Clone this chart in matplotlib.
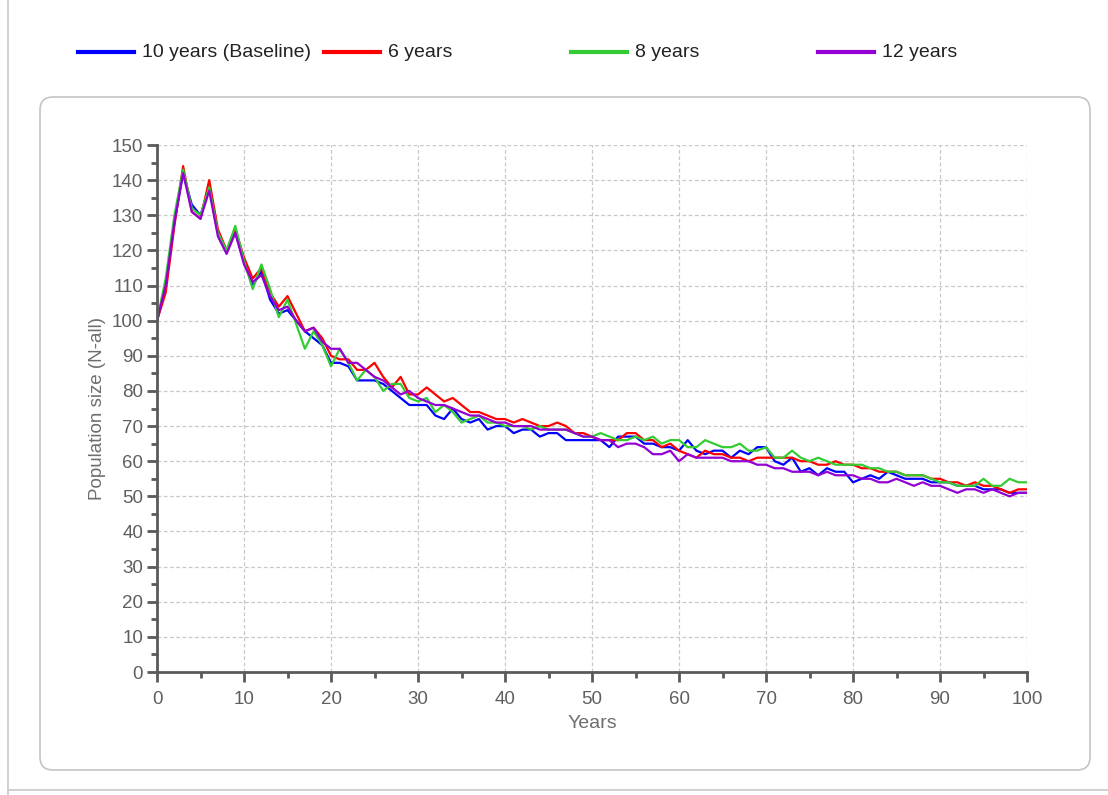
import numpy as np
import matplotlib.pyplot as plt
from matplotlib.patches import FancyBboxPatch
from matplotlib.lines import Line2D
from matplotlib.ticker import MultipleLocator

plt.rcParams['font.family'] = ['Liberation Sans', 'DejaVu Sans']

years = np.arange(0, 101)

# Population size (N-all) per year for each scenario
baseline_10 = [100, 110, 128, 142, 133, 130, 138, 125, 120, 125,
               117, 110, 114, 106, 102, 103, 100, 97, 95, 93,
               88, 88, 87, 83, 83, 83, 82, 80, 78, 76,
               76, 76, 73, 72, 75, 72, 71, 72, 69, 70,
               70, 68, 69, 69, 67, 68, 68, 66, 66, 66,
               66, 66, 64, 67, 67, 67, 65, 65, 64, 64,
               63, 66, 63, 62, 63, 63, 61, 63, 62, 64,
               64, 60, 59, 61, 57, 58, 56, 58, 57, 57,
               54, 55, 56, 55, 57, 56, 55, 55, 55, 54,
               54, 54, 53, 53, 53, 52, 52, 52, 51, 51, 51]
years_6 = [100, 108, 127, 144, 131, 129, 140, 126, 120, 126,
           118, 112, 115, 108, 104, 107, 102, 97, 98, 95,
           90, 89, 89, 86, 86, 88, 84, 81, 84, 79,
           79, 81, 79, 77, 78, 76, 74, 74, 73, 72,
           72, 71, 72, 71, 70, 70, 71, 70, 68, 68,
           67, 66, 66, 66, 68, 68, 66, 66, 64, 65,
           63, 62, 61, 63, 62, 62, 61, 61, 60, 61,
           61, 61, 61, 61, 60, 60, 59, 59, 60, 59,
           59, 58, 58, 57, 57, 57, 56, 56, 56, 55,
           55, 54, 54, 53, 54, 53, 53, 52, 51, 52, 52]
years_8 = [100, 112, 130, 143, 132, 130, 138, 125, 120, 127,
           117, 109, 116, 109, 101, 106, 99, 92, 97, 93,
           87, 92, 88, 83, 86, 84, 80, 82, 82, 78,
           77, 78, 74, 76, 74, 71, 72, 73, 71, 71,
           70, 70, 70, 69, 70, 69, 69, 69, 68, 67,
           67, 68, 67, 66, 66, 67, 66, 67, 65, 66,
           66, 64, 64, 66, 65, 64, 64, 65, 63, 63,
           64, 61, 61, 63, 61, 60, 61, 60, 59, 59,
           59, 59, 58, 58, 57, 57, 56, 56, 56, 55,
           54, 54, 53, 53, 53, 55, 53, 53, 55, 54, 54]
years_12 = [100, 110, 128, 142, 131, 129, 137, 124, 119, 125,
            116, 111, 113, 107, 103, 104, 100, 97, 98, 94,
            92, 92, 88, 88, 86, 84, 83, 81, 79, 80,
            78, 77, 76, 76, 75, 74, 73, 73, 72, 71,
            71, 70, 70, 70, 69, 69, 69, 69, 68, 67,
            67, 66, 66, 64, 65, 65, 64, 62, 62, 63,
            60, 62, 61, 61, 61, 61, 60, 60, 60, 59,
            59, 58, 58, 57, 57, 57, 56, 57, 56, 56,
            56, 55, 55, 54, 54, 55, 54, 53, 54, 53,
            53, 52, 51, 52, 52, 51, 52, 51, 50, 51, 51]

series = [("10 years (Baseline)", baseline_10, "#0000ff"),
          ("6 years", years_6, "#ff0000"),
          ("8 years", years_8, "#33cc33"),
          ("12 years", years_12, "#9400d3")]

fig = plt.figure(figsize=(11.08, 7.95), dpi=100)

# rounded panel behind the plot area (inch units)
panel = FancyBboxPatch((0.40, 0.25), 10.50, 6.73,
                       boxstyle="round,pad=0,rounding_size=0.13",
                       transform=fig.dpi_scale_trans, facecolor="white",
                       edgecolor="#c4c4c4", linewidth=1.2, zorder=-5)
fig.patches.append(panel)
fig.add_artist(Line2D([0.0072, 0.0072], [0.0, 1.0], color="#c8c8c8", lw=1.2,
                      transform=fig.transFigure))
fig.add_artist(Line2D([0.0072, 1.0], [0.006, 0.006], color="#c8c8c8", lw=1.2,
                      transform=fig.transFigure))

ax = fig.add_axes([0.1417, 0.1547, 0.7852, 0.6629])
ax.patch.set_alpha(0)
for name, vals, col in series:
    ax.plot(years, vals, color=col, lw=1.6, label=name)

ax.set_xlim(0, 100)
ax.set_ylim(0, 150)
ax.xaxis.set_major_locator(MultipleLocator(10))
ax.xaxis.set_minor_locator(MultipleLocator(5))
ax.yaxis.set_major_locator(MultipleLocator(10))
ax.yaxis.set_minor_locator(MultipleLocator(5))
ax.grid(True, which="major", linestyle=(0, (3, 2)), color="#c8c8c8", lw=0.9)
ax.set_axisbelow(True)

for s in ["top", "right"]:
    ax.spines[s].set_visible(False)
for s in ["left", "bottom"]:
    ax.spines[s].set_color("#5a5a5a")
    ax.spines[s].set_linewidth(2)

ax.tick_params(which="major", length=7, width=2, color="#5a5a5a",
               labelsize=13.5, labelcolor="#5f5f5f", pad=3)
ax.tick_params(axis="x", which="major", pad=7)
ax.tick_params(which="minor", length=4, width=2, color="#5a5a5a")

ax.set_xlabel("Years", fontsize=14, color="#6e6e6e", labelpad=5)
ax.set_ylabel("Population size (N-all)", fontsize=13.5, color="#6e6e6e", labelpad=4)

# legend row across the top
leg_x = [78, 324, 571, 818]
for (name, vals, col), x0 in zip(series, leg_x):
    fx = x0 / 1108
    fig.add_artist(Line2D([fx, fx + 56 / 1108], [0.9345, 0.9345], color=col, lw=3,
                          transform=fig.transFigure))
    fig.text(fx + 64 / 1108, 0.9345, name, fontsize=14, color="#222222",
             va="center", ha="left")

fig.savefig("out.png", dpi=100, facecolor="white")
